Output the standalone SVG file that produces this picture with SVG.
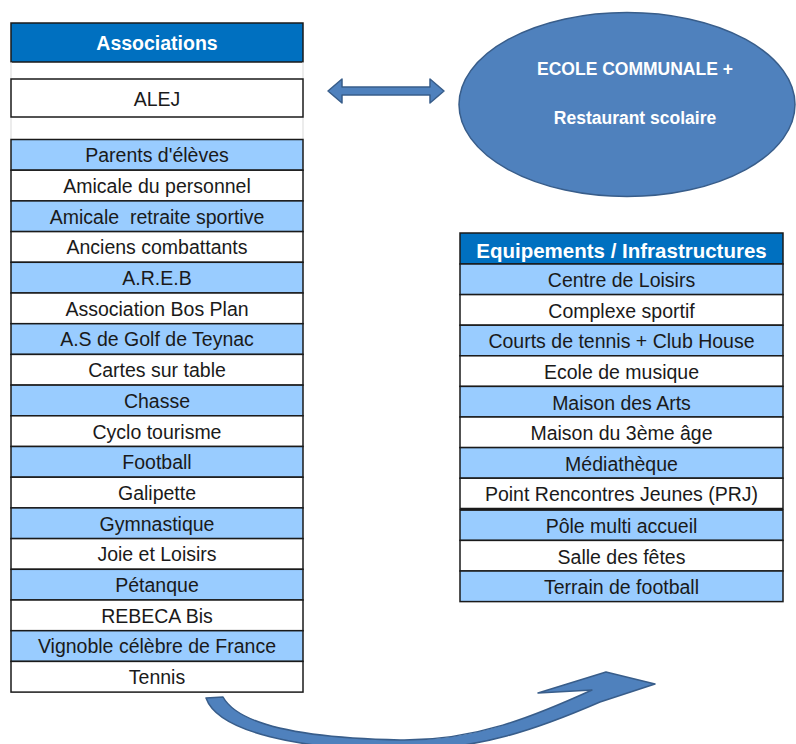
<svg xmlns="http://www.w3.org/2000/svg" width="796" height="744" viewBox="0 0 796 744">
<style>
  text { font-family: "Liberation Sans", Arial, sans-serif; }
  .row text, .cell { font-size: 19.5px; fill: #1a1a1a; text-anchor: middle; }
  .hdr { fill: #0070C0; stroke: #1a1a1a; stroke-width: 1.5; }
  .hdrt { font-size: 19.5px; font-weight: bold; fill: #ffffff; text-anchor: middle; }
  .b { fill: #99CCFF; stroke: #1a1a1a; stroke-width: 1.5; }
  .w { fill: #ffffff; stroke: #1a1a1a; stroke-width: 1.5; }
  .gap { stroke: #d9d9d9; stroke-width: 1; }
  .shape { fill: #4F81BD; stroke: #385D8A; stroke-width: 1.5; stroke-linejoin: round; }
  .ell { font-size: 17.5px; font-weight: bold; fill: #ffffff; text-anchor: middle; }
</style>

<!-- Left table: Associations -->
<g id="associations">
  <rect class="hdr" x="11" y="23" width="292" height="39"/>
  <text class="hdrt" x="157" y="50">Associations</text>
  <line class="gap" x1="11" y1="62" x2="11" y2="79"/>
  <line class="gap" x1="303" y1="62" x2="303" y2="79"/>
  <line class="gap" x1="11" y1="117" x2="11" y2="139.5"/>
  <line class="gap" x1="303" y1="117" x2="303" y2="139.5"/>
</g>
<g id="alej">
  <rect class="w" x="11" y="79" width="292" height="38"/>
  <text class="cell" x="157" y="106">ALEJ</text>
</g>
<g id="assoc-list">
  <rect class="b" x="11" y="139.5" width="292" height="30.7"/><text class="cell" x="157" y="162.2">Parents d'élèves</text>
  <rect class="w" x="11" y="170.2" width="292" height="30.7"/><text class="cell" x="157" y="192.9">Amicale du personnel</text>
  <rect class="b" x="11" y="200.9" width="292" height="30.7"/><text class="cell" x="157" y="223.6" xml:space="preserve">Amicale  retraite sportive</text>
  <rect class="w" x="11" y="231.6" width="292" height="30.7"/><text class="cell" x="157" y="254.3">Anciens combattants</text>
  <rect class="b" x="11" y="262.3" width="292" height="30.7"/><text class="cell" x="157" y="285">A.R.E.B</text>
  <rect class="w" x="11" y="293" width="292" height="30.7"/><text class="cell" x="157" y="315.7">Association Bos Plan</text>
  <rect class="b" x="11" y="323.7" width="292" height="30.7"/><text class="cell" x="157" y="346.4">A.S de Golf de Teynac</text>
  <rect class="w" x="11" y="354.4" width="292" height="30.7"/><text class="cell" x="157" y="377.1">Cartes sur table</text>
  <rect class="b" x="11" y="385.1" width="292" height="30.7"/><text class="cell" x="157" y="407.8">Chasse</text>
  <rect class="w" x="11" y="415.8" width="292" height="30.7"/><text class="cell" x="157" y="438.5">Cyclo tourisme</text>
  <rect class="b" x="11" y="446.5" width="292" height="30.7"/><text class="cell" x="157" y="469.2">Football</text>
  <rect class="w" x="11" y="477.2" width="292" height="30.7"/><text class="cell" x="157" y="499.9">Galipette</text>
  <rect class="b" x="11" y="507.9" width="292" height="30.7"/><text class="cell" x="157" y="530.6">Gymnastique</text>
  <rect class="w" x="11" y="538.6" width="292" height="30.7"/><text class="cell" x="157" y="561.3">Joie et Loisirs</text>
  <rect class="b" x="11" y="569.3" width="292" height="30.7"/><text class="cell" x="157" y="592">Pétanque</text>
  <rect class="w" x="11" y="600" width="292" height="30.7"/><text class="cell" x="157" y="622.7">REBECA Bis</text>
  <rect class="b" x="11" y="630.7" width="292" height="30.7"/><text class="cell" x="157" y="653.4">Vignoble célèbre de France</text>
  <rect class="w" x="11" y="661.4" width="292" height="30.7"/><text class="cell" x="157" y="684.1">Tennis</text>
</g>

<!-- Ecole ellipse -->
<g id="ecole">
  <ellipse class="shape" cx="627" cy="104.5" rx="168" ry="92"/>
  <text class="ell" x="635" y="75">ECOLE COMMUNALE +</text>
  <text class="ell" x="635" y="124">Restaurant scolaire</text>
</g>

<!-- Right table: Equipements -->
<g id="equipements">
  <rect class="hdr" x="460" y="233" width="323" height="31"/>
  <text class="hdrt" x="621.5" y="258" style="font-size:20.5px">Equipements / Infrastructures</text>
  <rect class="b" x="460" y="264" width="323" height="30.6"/><text class="cell" x="621.5" y="287.2">Centre de Loisirs</text>
  <rect class="w" x="460" y="294.6" width="323" height="30.6"/><text class="cell" x="621.5" y="317.8">Complexe sportif</text>
  <rect class="b" x="460" y="325.2" width="323" height="30.6"/><text class="cell" x="621.5" y="348.4">Courts de tennis + Club House</text>
  <rect class="w" x="460" y="355.8" width="323" height="30.6"/><text class="cell" x="621.5" y="379">Ecole de musique</text>
  <rect class="b" x="460" y="386.4" width="323" height="30.6"/><text class="cell" x="621.5" y="409.6">Maison des Arts</text>
  <rect class="w" x="460" y="417" width="323" height="30.6"/><text class="cell" x="621.5" y="440.2">Maison du 3ème âge</text>
  <rect class="b" x="460" y="447.6" width="323" height="30.6"/><text class="cell" x="621.5" y="470.8">Médiathèque</text>
  <rect class="w" x="460" y="478.2" width="323" height="30.6"/><text class="cell" x="621.5" y="501.4">Point Rencontres Jeunes (PRJ)</text>
  <rect class="b" x="460" y="509.8" width="323" height="30.6"/><text class="cell" x="621.5" y="533">Pôle multi accueil</text>
  <rect class="w" x="460" y="540.4" width="323" height="30.6"/><text class="cell" x="621.5" y="563.6">Salle des fêtes</text>
  <rect class="b" x="460" y="571" width="323" height="30.6"/><text class="cell" x="621.5" y="594.2">Terrain de football</text>
  <line x1="460" y1="509.3" x2="783" y2="509.3" stroke="#1a1a1a" stroke-width="3"/>
</g>

<!-- Connectors -->
<g id="connectors">
  <polygon class="shape" points="328,91 342,79 342,87 430,87 430,79 444,91 430,103 430,95 342,95 342,103"/>
  <path class="shape" d="M223,697 C238,724 300,738 400,740 C475,741 535,716 592,690 L538,693 L606,672 L655,684 L600,702 C540,728 480,750 400,750 C300,750 218,732 206,698 Z"/>
</g>
</svg>
